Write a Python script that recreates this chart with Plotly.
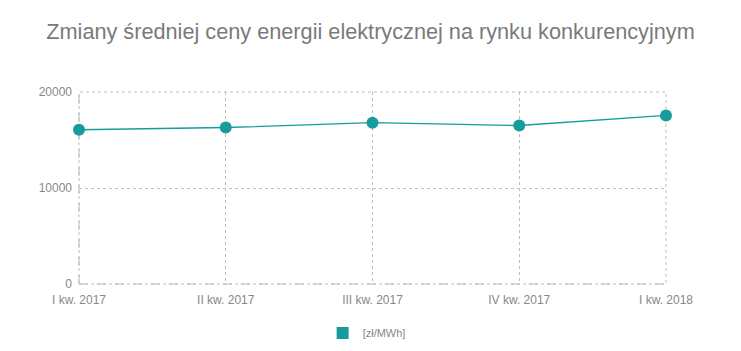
import plotly.graph_objects as go

categories = ["I kw. 2017", "II kw. 2017", "III kw. 2017", "IV kw. 2017", "I kw. 2018"]
prices = [16070, 16300, 16800, 16510, 17560]
series_name = "[zł/MWh]"
y_ticks = [0, 10000, 20000]

teal = "#169C9C"
grid = "#BDBDBD"

fig = go.Figure()
fig.add_trace(go.Scatter(
    x=categories, y=prices, mode="lines+markers",
    line=dict(color=teal, width=1.3),
    marker=dict(color=teal, size=12),
    showlegend=False, cliponaxis=False, name=series_name,
))
fig.add_trace(go.Scatter(
    x=[None], y=[None], mode="markers",
    marker=dict(color=teal, size=12, symbol="square"),
    name=series_name, showlegend=True,
))

fig.update_layout(
    width=741, height=351,
    margin=dict(l=79, r=75, t=92, b=67, autoexpand=False),
    paper_bgcolor="white", plot_bgcolor="white",
    font=dict(family="Liberation Sans, Arial, sans-serif", color="#888888", size=12),
    title=dict(text="Zmiany średniej ceny energii elektrycznej na rynku konkurencyjnym",
               x=0.5, xanchor="center", y=0.91, yanchor="middle",
               font=dict(size=21.7, color="#7A7A7A")),
    xaxis=dict(
        type="category", range=[0, 4], showgrid=True, gridcolor=grid, griddash="dot",
        gridwidth=1, zeroline=False, showline=False, ticks="", ticklabelstandoff=7,
        automargin=False, tickfont=dict(size=12, color="#888888"),
    ),
    yaxis=dict(
        range=[0, 20000], tickvals=y_ticks, tickformat="d", showgrid=True, gridcolor=grid,
        griddash="dot", gridwidth=1, zeroline=False, showline=False, ticks="",
        ticklabelstandoff=6, automargin=False, tickfont=dict(size=12, color="#888888"),
    ),
    legend=dict(orientation="h", x=0.49, xanchor="center", y=-0.255, yanchor="middle",
                font=dict(size=11, color="#888888"), itemwidth=30),
)
fig.add_shape(type="rect", xref="paper", yref="paper", x0=0, y0=0, x1=1, y1=1,
              line=dict(color=grid, width=1, dash="dot"), layer="below")
fig.add_shape(type="line", xref="paper", yref="paper", x0=0, y0=0, x1=1, y1=0,
              line=dict(color="#BBBBBB", width=1, dash="dash"), layer="below")
fig.add_shape(type="line", xref="paper", yref="paper", x0=0, y0=0, x1=0, y1=1,
              line=dict(color="#BBBBBB", width=1, dash="dash"), layer="below")

fig.write_html("out.html")
